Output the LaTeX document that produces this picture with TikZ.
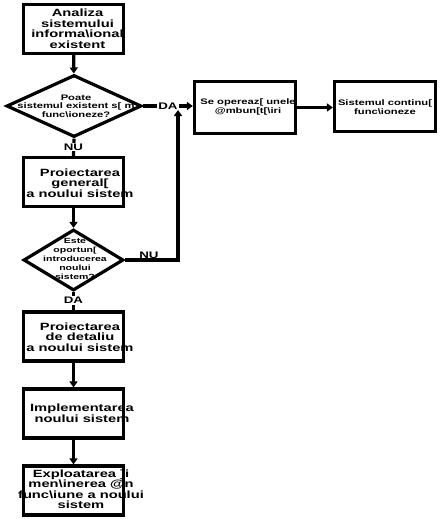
\documentclass[tikz,border=0pt]{standalone}
\usepackage{fontspec}
\setmainfont{Liberation Sans}[FakeStretch=1.4]
\usetikzlibrary{arrows.meta, positioning, shapes.geometric}

\begin{document}
\begin{tikzpicture}[
    x=1pt, y=1pt,
    >={Triangle[length=6pt, width=8pt]},
    arr/.style={->, line width=3.2pt},
    conn/.style={line width=3.2pt},
    box/.style={draw, line width=3.2pt, minimum width=100pt, minimum height=49pt, inner sep=0pt},
    sbox/.style={box, minimum width=101pt, minimum height=52pt},
    dec/.style={draw, diamond, line width=3.2pt, inner sep=0pt},
    txt/.style={font=\fontsize{10.5}{10.5}\selectfont\bfseries, align=center, inner sep=0pt},
    dtxt/.style={font=\fontsize{8}{8.5}\selectfont\bfseries, align=center, inner sep=0pt},
    otxt/.style={font=\fontsize{7.5}{9}\selectfont\bfseries, align=center, inner sep=0pt},
    stxt/.style={font=\fontsize{8}{8.5}\selectfont\bfseries, align=center, inner sep=0pt},
    lbl/.style={font=\fontsize{9.5}{9.5}\selectfont\bfseries, inner sep=1pt},
]
\useasboundingbox (0,0) rectangle (439,-519);
% === Left column: boxes and decisions ===
\node[box] (analiza) at (73.5,-29) {};
\node[txt] (analizatxt) at (77.5,-28.5) {Analiza\\sistemului\\informa\textbackslash ional\\existent};
%
\node[dec, minimum width=135pt, minimum height=62pt] (poate) at (74,-106) {};
\node[dtxt] (poatetxt) at (76,-106) {Poate\\sistemul existent s[ m\\func\textbackslash ioneze?};
%
\node[box] (general) at (73.5,-182) {};
\node[txt] (generaltxt) at (80,-183) {Proiectarea\\general[\\a noului sistem};
%
\node[dec, minimum width=100pt, minimum height=61pt] (oportun) at (73.5,-260) {};
\node[otxt] (oportuntxt) at (75,-259) {Este\\oportun[\\introducerea\\noului\\sistem?};
%
\node[box] (detaliu) at (73.5,-336.5) {};
\node[txt] (detaliutxt) at (80,-337) {Proiectarea\\de detaliu\\a  noului  sistem};
%
\node[box] (implem) at (73.5,-413.5) {};
\node[txt] (implemtxt) at (82,-413) {Implementarea\\noului  sistem};
%
\node[box] (exploat) at (73.5,-490.5) {};
\node[txt] (exploattxt) at (81,-489) {Exploatarea  ]i\\men\textbackslash inerea @n\\func\textbackslash iune a noului\\sistem};
% === Right row ===
\node[sbox] (opereaza) at (245,-107.5) {};
\node[stxt] (opereazatxt) at (248,-107) {Se opereaz[ unele\\@mbun[t[\textbackslash iri};
%
\node[sbox, minimum height=50pt] (continua) at (385,-106.5) {};
\node[stxt] (continuatxt) at (385,-107) {Sistemul continu[\\func\textbackslash ioneze};
% === Connectors ===
\foreach \a/\b in {analiza/poate, general/oportun, detaliu/implem, implem/exploat} {
    \draw[arr] (\a) -- (\b);
}
\draw[conn] (poate.south) -- (general.north);
\node[lbl, fill=white] (nu1) at (73.5,-147) {NU};
\draw[conn] (oportun.south) -- (detaliu.north);
\node[lbl, fill=white] (da2) at (73.5,-300.5) {DA};
%
\draw[arr] (poate.east) -- (poate.east -| opereaza.west);
\node[lbl, fill=white] (da1) at (168,-106) {DA};
\coordinate (merge) at (178,-110);
\draw[arr] (oportun.east) -- (oportun.east -| merge) -- (merge);
\node[lbl, anchor=south] (nu2) at (149,-259.5) {NU};
%
\draw[arr] (opereaza.east) -- (opereaza.east -| continua.west);
\end{tikzpicture}
\end{document}
